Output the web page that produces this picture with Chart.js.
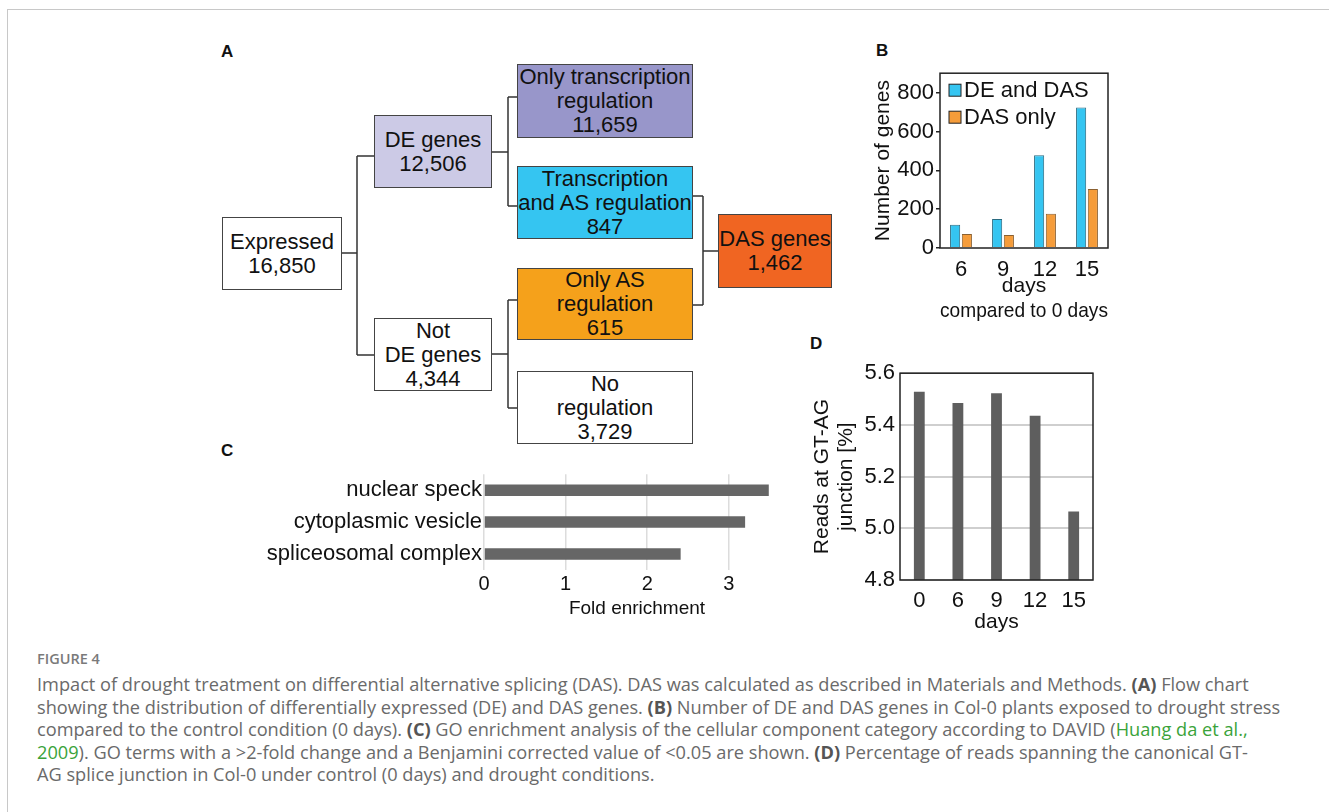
<!DOCTYPE html>
<html lang="en">
<head>
<meta charset="UTF-8">
<title>Figure 4</title>
<script src="https://cdn.jsdelivr.net/npm/chart.js"></script>
<style>
  body { margin: 0; background: #fff; width: 1329px; height: 812px; position: relative; overflow: hidden; font-family: "Liberation Sans", Arial, sans-serif; }
  .frame { position: absolute; left: 7px; top: 9px; width: 1340px; height: 900px; border-left: 1px solid #c8c8c8; border-top: 1px solid #c8c8c8; }
  .panel { position: absolute; font-weight: bold; font-size: 17px; color: #111; }
  .box { position: absolute; box-sizing: border-box; border: 1.5px solid #444; display: flex; align-items: center; justify-content: center; text-align: center; font-size: 22px; line-height: 24px; color: #111; white-space: nowrap; }
  .plot { position: absolute; }
  .fig { position: absolute; left: 37px; top: 651px; line-height: 16px; font-family: "Open Sans", sans-serif; font-size: 14.5px; font-weight: 600; color: #7a7a7a; }
  .caption { position: absolute; left: 37px; top: 673px; font-family: "Open Sans", sans-serif; font-size: 18.2px; line-height: 22.5px; color: #6a6a6a; white-space: nowrap; }
  .caption b { color: #555; }
  .caption a { color: #3aa33a; text-decoration: none; }
  svg { position: absolute; left: 0; top: 0; }
</style>
</head>
<body>
<div class="frame"></div>

<!-- panel A: flow chart -->
<div class="panel" style="left:221px;top:42px;">A</div>
<svg width="900" height="460">
  <g stroke="#333" stroke-width="1.5" fill="none">
    <path d="M342 253 H357 M357 156 V355 M357 156 H374 M357 355 H374"/>
    <path d="M492 152 H508 M508 97 V206 M508 97 H517 M508 206 H517"/>
    <path d="M492 354 H508 M508 300 V408 M508 300 H517 M508 408 H517"/>
    <path d="M692 196 H703 M692 305 H703 M703 196 V305 M703 251 H718"/>
  </g>
</svg>
<div class="box" style="left:222px;top:217px;width:120px;height:73px;background:#fff;">Expressed<br>16,850</div>
<div class="box" style="left:374px;top:115px;width:118px;height:73px;background:#cccae6;">DE genes<br>12,506</div>
<div class="box" style="left:374px;top:318px;width:118px;height:73px;background:#fff;">Not<br>DE genes<br>4,344</div>
<div class="box" style="left:517px;top:64px;width:176px;height:74px;background:#9896ca;">Only transcription<br>regulation<br>11,659</div>
<div class="box" style="left:517px;top:166px;width:176px;height:73px;background:#35c5f1;">Transcription<br>and AS regulation<br>847</div>
<div class="box" style="left:517px;top:268px;width:176px;height:72px;background:#f5a11b;">Only AS<br>regulation<br>615</div>
<div class="box" style="left:517px;top:371px;width:176px;height:73px;background:#fff;">No<br>regulation<br>3,729</div>
<div class="box" style="left:718px;top:214px;width:114px;height:74px;background:#f06522;">DAS genes<br>1,462</div>

<div class="panel" style="left:876px;top:41px;">B</div>
<div class="plot" style="left:862px;top:58px;width:250px;height:266px;"><canvas id="chartB" width="250" height="266"></canvas></div>

<div class="panel" style="left:221px;top:441px;">C</div>
<div class="plot" style="left:230px;top:459px;width:560px;height:165px;"><canvas id="chartC" width="560" height="165"></canvas></div>

<div class="panel" style="left:810px;top:334px;">D</div>
<div class="plot" style="left:800px;top:355px;width:300px;height:280px;"><canvas id="chartD" width="300" height="280"></canvas></div>

<div class="fig">FIGURE 4</div>
<div class="caption">
  Impact of drought treatment on differential alternative splicing (DAS). DAS was calculated as described in Materials and Methods. <b>(A)</b> Flow chart<br>
  showing the distribution of differentially expressed (DE) and DAS genes. <b>(B)</b> Number of DE and DAS genes in Col-0 plants exposed to drought stress<br>
  compared to the control condition (0 days). <b>(C)</b> GO enrichment analysis of the cellular component category according to DAVID (<a>Huang da et al.,</a><br>
  <a>2009</a>). GO terms with a &gt;2-fold change and a Benjamini corrected value of &lt;0.05 are shown. <b>(D)</b> Percentage of reads spanning the canonical GT-<br>
  AG splice junction in Col-0 under control (0 days) and drought conditions.
</div>

<script>
// panel B
const daysB = ['6', '9', '12', '15'];
const deAndDas = [120, 149, 477, 723];
const dasOnly = [72, 67, 176, 304];
const ticksB = [0, 200, 400, 600, 800];

// panel C
const goTerms = ['nuclear speck', 'cytoplasmic vesicle', 'spliceosomal complex'];
const foldEnrichment = [3.49, 3.2, 2.41];
const ticksC = [0, 1, 2, 3];

// panel D
const daysD = ['0', '6', '9', '12', '15'];
const gtAgReads = [5.528, 5.485, 5.522, 5.435, 5.065];

const SANS = '"Liberation Sans", Arial, sans-serif';

Chart.defaults.color = '#111';
Chart.defaults.font.family = SANS;

const plotFrame = {
    id: 'plotFrame',
    afterDatasetsDraw(chart) {
        const a = chart.chartArea;
        const ctx = chart.ctx;
        ctx.save();
        ctx.strokeStyle = '#222';
        ctx.lineWidth = 1.5;
        ctx.strokeRect(a.left, a.top, a.right - a.left, a.bottom - a.top);
        ctx.restore();
    }
};

const boxLegend = {
    id: 'boxLegend',
    afterDraw(chart) {
        const a = chart.chartArea;
        const ctx = chart.ctx;
        ctx.save();
        ctx.font = '22px ' + SANS;
        ctx.textBaseline = 'middle';
        chart.data.datasets.forEach((ds, i) => {
            const y = a.top + 17 + i * 27;
            ctx.fillStyle = ds.backgroundColor;
            ctx.fillRect(a.left + 9, y - 6, 12, 12);
            ctx.strokeStyle = '#222';
            ctx.lineWidth = 1;
            ctx.strokeRect(a.left + 9, y - 6, 12, 12);
            ctx.fillStyle = '#111';
            ctx.fillText(ds.label, a.left + 24, y + 1);
        });
        ctx.restore();
    }
};

new Chart(document.getElementById('chartB'), {
    type: 'bar',
    data: {
        labels: daysB,
        datasets: [
            { label: 'DE and DAS', data: deAndDas, backgroundColor: '#35c5f1', borderColor: '#2a6a80', borderWidth: 1 },
            { label: 'DAS only', data: dasOnly, backgroundColor: '#f59c3a', borderColor: '#8a6030', borderWidth: 1 }
        ]
    },
    options: {
        responsive: false,
        animation: false,
        layout: { padding: { top: 6, right: 4, left: 0, bottom: 0 } },
        categoryPercentage: 0.56,
        barPercentage: 0.86,
        plugins: { legend: { display: false }, tooltip: { enabled: false } },
        scales: {
            x: {
                grid: { display: false },
                border: { display: false },
                afterFit: s => { s.height = 76; },
                ticks: { font: { size: 22 }, padding: 1, color: '#111' },
                title: { display: true, text: ['days', 'compared to 0 days'], font: { size: 21, lineHeight: 1.2 }, padding: { top: 0, bottom: 0 }, color: '#111' }
            },
            y: {
                min: 0,
                max: 900,
                afterBuildTicks: s => { s.ticks = ticksB.map(v => ({ value: v })); },
                afterFit: s => { s.width = 78; },
                grid: { drawOnChartArea: false, tickLength: 4, color: '#222', lineWidth: 1.5 },
                border: { display: false },
                ticks: { font: { size: 22 }, padding: 2, color: '#111' },
                title: { display: true, text: 'Number of genes', font: { size: 21 }, padding: { top: 9, bottom: 2 }, color: '#111' }
            }
        }
    },
    plugins: [plotFrame, boxLegend]
});

new Chart(document.getElementById('chartC'), {
    type: 'bar',
    data: {
        labels: goTerms,
        datasets: [{ data: foldEnrichment, backgroundColor: '#666666' }]
    },
    options: {
        indexAxis: 'y',
        responsive: false,
        animation: false,
        layout: { padding: { top: 0, right: 0, left: 0, bottom: 0 } },
        barPercentage: 0.36,
        categoryPercentage: 1,
        plugins: { legend: { display: false }, tooltip: { enabled: false } },
        scales: {
            y: {
                afterFit: s => { s.width = 254; },
                grid: { display: false, drawTicks: false },
                border: { display: false },
                ticks: { font: { size: 22 }, padding: 2, color: '#111' }
            },
            x: {
                min: 0,
                max: 3.75,
                afterBuildTicks: s => { s.ticks = ticksC.map(v => ({ value: v })); },
                afterFit: s => { s.height = 54; },
                grid: { color: '#dcdcdc', lineWidth: 1.5, drawTicks: false },
                border: { display: false },
                ticks: { font: { size: 20 }, padding: 2, color: '#111' },
                title: { display: true, text: 'Fold enrichment', font: { size: 19 }, padding: { top: 0 }, color: '#111' }
            }
        }
    }
});

new Chart(document.getElementById('chartD'), {
    type: 'bar',
    data: {
        labels: daysD,
        datasets: [{ data: gtAgReads, backgroundColor: '#5e5e5e' }]
    },
    options: {
        responsive: false,
        animation: false,
        layout: { padding: { top: 13, right: 7, left: 0, bottom: 0 } },
        barPercentage: 0.28,
        categoryPercentage: 1,
        plugins: { legend: { display: false }, tooltip: { enabled: false } },
        scales: {
            x: {
                grid: { display: false },
                border: { display: false },
                ticks: { font: { size: 22 }, padding: 0, color: '#111' },
                afterFit: s => { s.height = 55; },
                title: { display: true, text: 'days', font: { size: 21 }, padding: { top: 0, bottom: 0 }, color: '#111' }
            },
            y: {
                min: 4.8,
                max: 5.6,
                ticks: {
                    stepSize: 0.1,
                    font: { size: 22 },
                    padding: 5,
                    color: '#111',
                    callback: v => (Math.round(v * 10) % 2 === 0 ? v.toFixed(1) : '')
                },
                afterFit: s => { s.width = 100; },
                grid: { color: '#cfcfcf', lineWidth: 2, drawTicks: false },
                border: { display: false },
                title: { display: true, text: ['Reads at GT-AG', 'junction [%]'], font: { size: 21, lineHeight: 1.15 }, padding: { top: 10, bottom: 4 }, color: '#111' }
            }
        }
    },
    plugins: [plotFrame]
});
</script>
</body>
</html>
